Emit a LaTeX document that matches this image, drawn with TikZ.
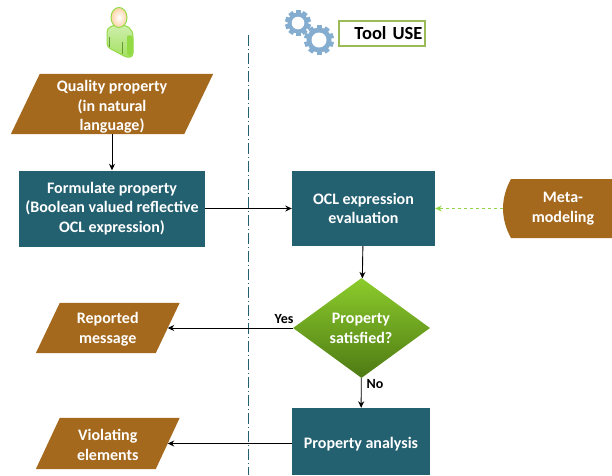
\documentclass[tikz,border=0pt]{standalone}
\usepackage{fontspec}
\setmainfont{Carlito}
\usetikzlibrary{arrows.meta,shapes.geometric,backgrounds,calc}

\definecolor{boxteal}{HTML}{236070}
\definecolor{boxbrown}{HTML}{A5691D}
\definecolor{geargray}{HTML}{85ADD0}
\definecolor{titlegreen}{HTML}{9BBB59}
\definecolor{leafgreen}{HTML}{8CCC2C}
\definecolor{darkleaf}{HTML}{4E7A14}
\definecolor{limegreen}{HTML}{93DB45}

\tikzset{
  flowtext/.style={text=white, font=\bfseries\fontsize{16}{19.5}\selectfont, align=center, inner sep=0pt},
  procbox/.style={flowtext, fill=boxteal},
  databox/.style={flowtext},
  flowarrow/.style={-{Stealth[length=6.5pt,width=6pt]}, line width=0.9pt},
  edgelabel/.style={font=\bfseries\fontsize{14}{16}\selectfont, inner sep=0pt}
}

% brown parallelogram behind a named node
\newcommand{\slantfill}[2]{%
  \begin{scope}[on background layer]
    \fill[boxbrown] ($(#1.north west)+(#2,0)$) -- ($(#1.north east)+(#2,0)$)
      -- ($(#1.south east)-(#2,0)$) -- ($(#1.south west)-(#2,0)$) -- cycle;
  \end{scope}}
% taller first line, pushes a text down in its node
\newcommand{\toppad}[1]{\rule{0pt}{#1pt}}

\begin{document}
\begin{tikzpicture}[x=1pt, y=-1pt]
    \useasboundingbox (0,0) rectangle (612,475);

    % Swimlane separator
    \coordinate (laneTop) at (248,35);
    \coordinate (laneEnd) at (248,475);
    \draw[boxteal, line width=0.8pt, dash pattern=on 11pt off 3pt on 1pt off 3pt] (laneTop) -- (laneEnd);

    % User icon
    \draw[limegreen, line width=1pt, top color=limegreen!45!white, bottom color=limegreen!85!white]
      (107,32) .. controls (107,27) and (113,25) .. (119,25)
      .. controls (128,25) and (133,29) .. (133,37)
      -- (133,53) .. controls (133,58) and (128,58) .. (124,56)
      -- (111,49) .. controls (108,47) and (107,46) .. (107,43) -- cycle;
    \fill[limegreen] (127,36) .. controls (131,34) and (133,36) .. (133,40)
      -- (133,52) .. controls (133,57) and (127,57) .. (127,53) -- cycle;
    \draw[limegreen!70!black, line width=0.5pt] (109.5,37) -- (109.5,47);
    \draw[limegreen!70!black, line width=0.5pt] (122,42) -- (122,54);
    \draw[limegreen, line width=1pt, inner color=white, outer color=orange!35!white] (119,17.5) ellipse (8 and 10);

    % Gear icon
    \foreach \cx/\cy/\gr in {298/23/10.5, 319/40/12.5}{
      \foreach \ang in {0,36,...,324}{
        \fill[geargray, rotate around={\ang:(\cx,\cy)}] (\cx-2.5,\cy-\gr-2.5) rectangle (\cx+2.5,\cy);
      }
      \fill[geargray] (\cx,\cy) circle (\gr);
      \fill[white] (\cx,\cy) circle (0.6*\gr);
    }

    % Title
    \node[draw=titlegreen, line width=1.2pt, minimum width=86pt, minimum height=25pt, inner sep=0pt,
          text width=81pt, align=right, font=\bfseries\fontsize{18.5}{20}\selectfont] (toolUse) at (382,33.5) {Tool USE};

    % Draw nodes
    \node[databox, minimum width=173pt, minimum height=60pt] (quality) at (112,104) {\toppad{17}Quality property\\(in natural\\language)};
    \slantfill{quality}{14.5}
    \node[procbox, minimum width=186pt, minimum height=76pt] (formulate) at (112,208.5) {Formulate property\\(Boolean valued reflective\\OCL expression)};
    \node[procbox, minimum width=143pt, minimum height=75pt] (evaluation) at (363.5,208.5) {OCL expression\\evaluation};
    \node[flowtext, minimum width=90pt, minimum height=59pt] (metaText) at (563,208.5) {Meta-\\modeling};
    \begin{scope}[on background layer]
      \fill[boxbrown] (511,179) .. controls (506,188) and (503,198) .. (503,208.5)
        .. controls (503,219) and (506,229) .. (511,238) -- (612,238) -- (612,179) -- cycle;
    \end{scope}
    \coordinate (metaLeft) at (503,208.5);
    \node[diamond, flowtext, minimum width=137pt, minimum height=100pt, aspect=1.37,
          top color=leafgreen, bottom color=darkleaf] (satisfied) at (361.5,328) {};
    \node[flowtext] (satisfiedText) at (361,328.5) {Property\\satisfied?};
    \node[procbox, minimum width=138pt, minimum height=67pt] (analysis) at (361,441.5) {\toppad{17}Property analysis};
    \node[databox, minimum width=119.5pt, minimum height=50pt] (reported) at (107.75,328) {\toppad{14}Reported\\message};
    \slantfill{reported}{12}
    \node[databox, minimum width=119.5pt, minimum height=51pt] (violating) at (107.75,443.5) {\toppad{14}Violating\\elements};
    \slantfill{violating}{12}

    % Draw edges
    \draw[flowarrow] (quality) -- (formulate);
    \draw[flowarrow] (formulate) -- (evaluation);
    \draw[flowarrow, limegreen!80!titlegreen, dashed] (metaLeft) -- (evaluation);
    \draw[flowarrow] (evaluation) -- (satisfied);
    \draw[flowarrow] (satisfied) -- (reported);
    \draw[flowarrow] (satisfied) -- (analysis);
    \draw[flowarrow] (analysis.west |- violating) -- (violating);

    % Edge labels
    \node[edgelabel] (yesLabel) at (284,319) {Yes};
    \node[edgelabel] (noLabel) at (375,384) {No};
\end{tikzpicture}
\end{document}
